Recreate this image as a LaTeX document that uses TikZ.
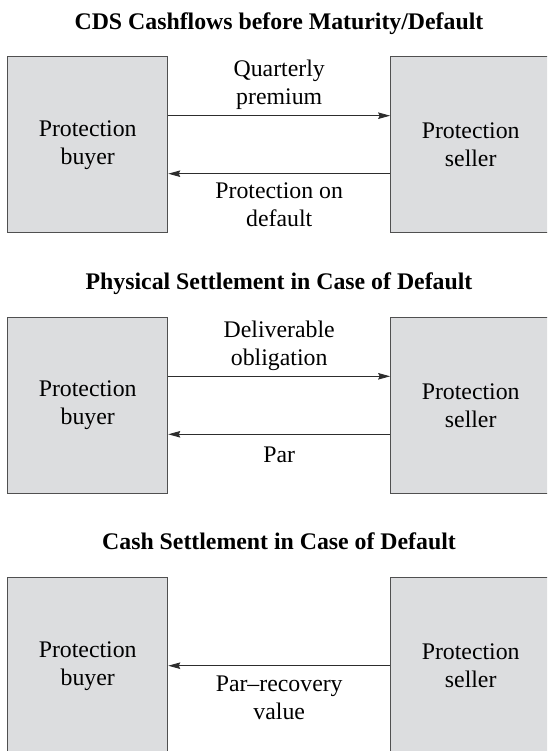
\documentclass[tikz,border=0pt]{standalone}
\usepackage{fontspec}
\setmainfont{Liberation Serif}
\usetikzlibrary{arrows.meta,calc}
\definecolor{boxfill}{RGB}{220,221,223}
\definecolor{boxedge}{RGB}{80,80,80}
\definecolor{flowline}{RGB}{45,45,45}
\begin{document}
\begin{tikzpicture}[x=1pt,y=-1pt,
  party/.style={draw=boxedge, line width=1.1pt, fill=boxfill,
    minimum width=160pt, minimum height=176pt, inner sep=0pt,
    align=center, font=\fontsize{23.8}{28}\selectfont},
  flow/.style={draw=flowline, line width=0.9pt,
    -{Stealth[length=12pt,width=6.5pt,inset=1.5pt]}},
  % multi-line labels sit on the baseline of their last line
  lbl/.style={align=center, inner sep=0pt, anchor=base,
    font=\fontsize{23.8}{28}\selectfont},
  heading/.style={inner sep=0pt, anchor=base,
    font=\fontsize{23.8}{28}\selectfont\bfseries}]
\useasboundingbox (0,0) rectangle (547,751);
\clip (0,0) rectangle (547,751);

% --- premium leg and protection leg before default
\node[heading] (t1) at (279,29.3) {CDS Cashflows before Maturity/Default};
\node[party] (b1) at (87.7,144.7) {Protection\\buyer};
\node[party] (s1) at (470.7,144.7) {Protection\\seller};
\draw[flow] ([yshift=29pt]b1.east) -- ([yshift=29pt]s1.west);
\draw[flow] ([yshift=-29pt]s1.west) -- ([yshift=-29pt]b1.east);
\node[lbl] (q1) at ($(b1.north)!0.5!(s1.north)+(0,48.4)$) {Quarterly\\premium};
\node[lbl] (p1) at ($(b1.north)!0.5!(s1.north)+(0,170.3)$) {Protection on\\default};

% --- physical settlement
\node[heading] (t2) at (279,289.3) {Physical Settlement in Case of Default};
\node[party] (b2) at (87.7,405.3) {Protection\\buyer};
\node[party] (s2) at (470.7,405.3) {Protection\\seller};
\draw[flow] ([yshift=29pt]b2.east) -- ([yshift=29pt]s2.west);
\draw[flow] ([yshift=-29pt]s2.west) -- ([yshift=-29pt]b2.east);
\node[lbl] (d2) at ($(b2.north)!0.5!(s2.north)+(0,48.4)$) {Deliverable\\obligation};
\node[lbl] (r2) at ($(b2.north)!0.5!(s2.north)+(0,145.4)$) {Par};

% --- cash settlement
\node[heading] (t3) at (279,549.3) {Cash Settlement in Case of Default};
\node[party] (b3) at (87.7,665.7) {Protection\\buyer};
\node[party] (s3) at (470.7,665.7) {Protection\\seller};
\draw[flow] (s3.west) -- (b3.east);
\node[lbl] (v3) at ($(b3.north)!0.5!(s3.north)+(0,142.3)$) {Par–recovery\\value};
\end{tikzpicture}
\end{document}
